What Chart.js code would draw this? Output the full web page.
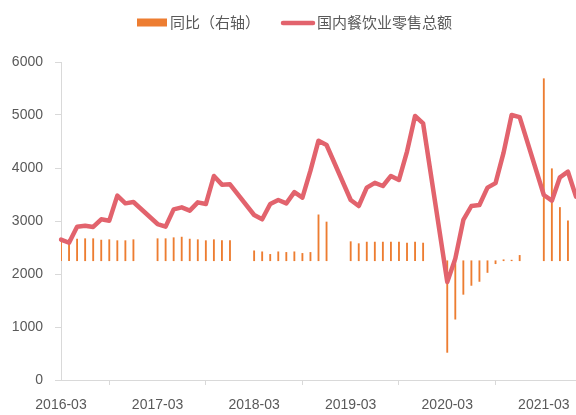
<!DOCTYPE html>
<html><head><meta charset="utf-8">
<script src="https://cdn.jsdelivr.net/npm/chart.js@4.4.0/dist/chart.umd.min.js"></script>
<style>html,body{margin:0;padding:0;background:#fff;}#wrap{width:576px;height:415px;}</style>
</head><body><div id="wrap"><canvas id="c" width="576" height="415"></canvas></div>
<script>
const categories = [
 '2016-03','2016-04','2016-05','2016-06','2016-07','2016-08','2016-09','2016-10','2016-11','2016-12',
 '2017-01','2017-02','2017-03','2017-04','2017-05','2017-06','2017-07','2017-08','2017-09','2017-10','2017-11','2017-12',
 '2018-01','2018-02','2018-03','2018-04','2018-05','2018-06','2018-07','2018-08','2018-09','2018-10','2018-11','2018-12',
 '2019-01','2019-02','2019-03','2019-04','2019-05','2019-06','2019-07','2019-08','2019-09','2019-10','2019-11','2019-12',
 '2020-01','2020-02','2020-03','2020-04','2020-05','2020-06','2020-07','2020-08','2020-09','2020-10','2020-11','2020-12',
 '2021-01','2021-02','2021-03','2021-04','2021-05','2021-06','2021-07'
];
const salesTotal = [
 2650, 2590, 2893, 2912, 2887, 3032, 3006, 3478, 3333, 3358,
 null, null, 2943, 2893, 3220, 3258, 3195, 3352, 3320, 3849, 3686, 3692,
 null, null, 3113, 3032, 3320, 3396, 3333, 3545, 3440, 3950, 4515, 4434,
 null, null, 3396, 3283, 3629, 3720, 3660, 3850, 3774, 4310, 4981, 4843,
 null, null, 1850, 2290, 3019, 3283, 3302, 3630, 3715, 4290, 5000, 4960,
 null, null, 3490, 3383, 3825, 3930, 3460
];
const yoyGrowth = [
 11.0, 10.8, 10.9, 11.1, 11.1, 10.4, 10.6, 10.1, 10.1, 10.6,
 null, null, 11.1, 11.1, 11.6, 11.9, 10.9, 10.6, 10.1, 10.6, 10.1, 10.1,
 null, null, 5.0, 4.5, 3.2, 4.5, 4.2, 4.5, 3.7, 4.2, 23.1, 19.5,
 null, null, 9.6, 8.6, 9.4, 9.4, 9.4, 9.4, 9.4, 8.9, 9.4, 8.9,
 null, null, -46.1, -29.4, -16.9, -12.4, -10.4, -5.9, -1.5, 0.5, 0.3, 2.7,
 null, null, 91.6, 46.3, 26.8, 20.1, null
];
const seriesNames = ['同比（右轴）', '国内餐饮业零售总额'];

const BAR_COLOR = '#ED7D31';
const LINE_COLOR = '#E2636D';
const TEXT_COLOR = '#595959';
const AXIS_COLOR = '#D9D9D9';
const tickFont = {family: '"Liberation Sans", Arial, sans-serif', size: 14};

const legendPlugin = {
  id: 'customLegend',
  afterDraw(chart) {
    const ctx = chart.ctx;
    ctx.save();
    ctx.fillStyle = BAR_COLOR;
    ctx.fillRect(137, 18.5, 30, 8);
    ctx.font = '15px "Noto Sans CJK SC", sans-serif';
    ctx.fillStyle = TEXT_COLOR;
    ctx.textBaseline = 'middle';
    ctx.textAlign = 'left';
    ctx.fillText(seriesNames[0], 170, 22.5);
    ctx.strokeStyle = LINE_COLOR;
    ctx.lineWidth = 4.5;
    ctx.lineCap = 'round';
    ctx.beginPath();
    ctx.moveTo(283, 23);
    ctx.lineTo(313, 23);
    ctx.stroke();
    ctx.fillText(seriesNames[1], 317, 22.5);
    ctx.restore();
  }
};

new Chart(document.getElementById('c'), {
  type: 'bar',
  data: {
    labels: categories,
    datasets: [
      {
        type: 'line', label: seriesNames[1], data: salesTotal, yAxisID: 'y',
        borderColor: LINE_COLOR, backgroundColor: LINE_COLOR, borderWidth: 4.5,
        pointRadius: 0, pointHoverRadius: 0, spanGaps: true, tension: 0,
        borderJoinStyle: 'round', borderCapStyle: 'round', order: 0
      },
      {
        type: 'bar', label: seriesNames[0], data: yoyGrowth, yAxisID: 'y1',
        backgroundColor: BAR_COLOR, barThickness: 1.2, order: 1
      }
    ]
  },
  options: {
    responsive: false,
    devicePixelRatio: 1,
    animation: false,
    layout: {padding: {top: 62, right: 0, bottom: 0, left: 0}},
    plugins: {legend: {display: false}, tooltip: {enabled: false}},
    scales: {
      x: {
        type: 'category', offset: false,
        grid: {display: true, drawOnChartArea: false, drawTicks: true, tickLength: 5, color: AXIS_COLOR},
        border: {display: true, color: AXIS_COLOR, width: 1},
        ticks: {
          autoSkip: false, maxRotation: 0, minRotation: 0, padding: 12,
          color: TEXT_COLOR, font: tickFont,
          callback: function(v) { const l = this.getLabelForValue(v); return l.endsWith('-03') ? l : null; }
        },
        afterFit(s) { s.height = 35; s.paddingLeft = 0; s.paddingRight = 0; }
      },
      y: {
        position: 'left', min: 0, max: 6000,
        grid: {display: true, drawOnChartArea: false, drawTicks: true, tickLength: 6, color: AXIS_COLOR},
        border: {display: true, color: AXIS_COLOR, width: 1},
        ticks: {stepSize: 1000, padding: 12, color: TEXT_COLOR, font: tickFont,
          callback: function(v) { return String(v); }},
        afterFit(s) { s.width = 61; }
      },
      y1: {
        position: 'right', display: false, min: -60, max: 100
      }
    }
  },
  plugins: [legendPlugin]
});
</script>
</body></html>
